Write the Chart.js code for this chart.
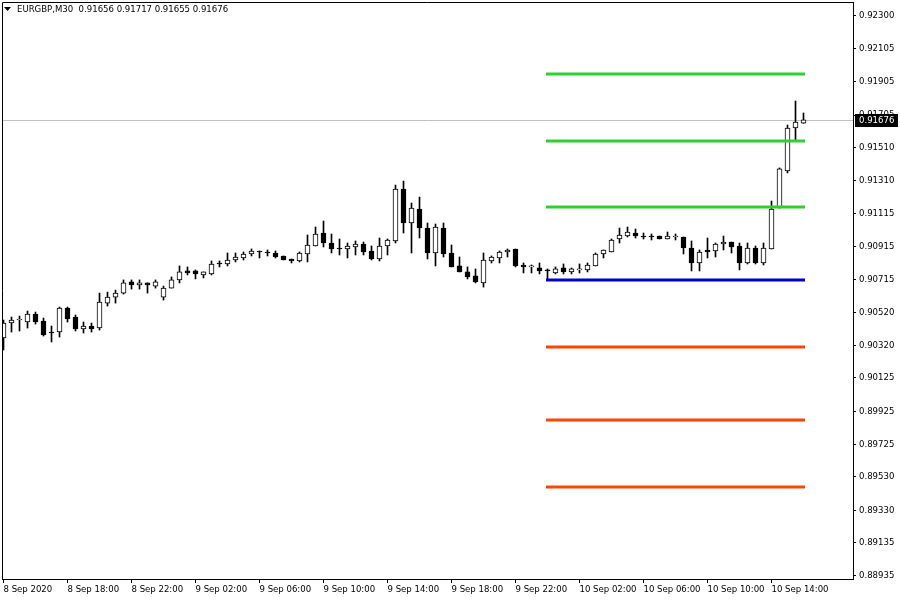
<!DOCTYPE html>
<html><head><meta charset="utf-8">
<script src="https://cdn.jsdelivr.net/npm/chart.js@4/dist/chart.umd.min.js"></script>
<style>html,body{margin:0;padding:0;background:#fff}#wrap{width:900px;height:600px}</style>
</head><body><div id="wrap"><canvas id="c" width="900" height="600"></canvas></div>
<script>
const symbolTitle = "EURGBP,M30";

const open = [0.90365,0.90455,0.90473,0.90461,0.90509,0.90467,0.90401,0.90401,0.90545,0.90491,
0.90419,0.90437,0.90425,0.90575,0.90611,0.90635,0.90702,0.90684,0.90696,0.90677,
0.90611,0.90665,0.90714,0.90768,0.90768,0.90744,0.90750,0.90816,0.90810,0.90834,
0.90846,0.90870,0.90888,0.90882,0.90876,0.90858,0.90840,0.90828,0.90870,0.90918,
0.90996,0.90936,0.90906,0.90900,0.90912,0.90930,0.90888,0.90840,0.90918,0.90948,
0.91260,0.91056,0.91140,0.91026,0.90876,0.91026,0.90876,0.90798,0.90762,0.90738,
0.90696,0.90828,0.90846,0.90882,0.90900,0.90804,0.90792,0.90786,0.90774,0.90756,
0.90786,0.90762,0.90774,0.90774,0.90798,0.90870,0.90882,0.90960,0.90978,0.90996,
0.90978,0.90978,0.90978,0.90960,0.90972,0.90972,0.90906,0.90816,0.90894,0.90888,
0.90930,0.90942,0.90918,0.90816,0.90906,0.90816,0.90900,0.91146,0.91369,0.91627,
0.91656];

const high = [0.90473,0.90491,0.90497,0.90527,0.90521,0.90485,0.90437,0.90551,0.90551,0.90503,
0.90461,0.90455,0.90635,0.90641,0.90653,0.90714,0.90714,0.90714,0.90696,0.90714,
0.90677,0.90732,0.90798,0.90792,0.90774,0.90762,0.90828,0.90828,0.90876,0.90876,
0.90882,0.90900,0.90888,0.90894,0.90888,0.90858,0.90840,0.90882,0.90984,0.91032,
0.91068,0.90990,0.90960,0.90936,0.90948,0.90942,0.90918,0.90966,0.90960,0.91284,
0.91308,0.91176,0.91212,0.91056,0.91050,0.91056,0.90924,0.90852,0.90792,0.90780,
0.90876,0.90858,0.90888,0.90900,0.90900,0.90816,0.90804,0.90816,0.90780,0.90792,
0.90810,0.90786,0.90810,0.90816,0.90876,0.90894,0.90960,0.91026,0.91032,0.91020,
0.90996,0.90990,0.90978,0.91002,0.90990,0.90972,0.90948,0.90894,0.90966,0.90936,
0.90978,0.90942,0.90936,0.90936,0.90918,0.90936,0.91188,0.91387,0.91645,0.91789,
0.91717];

const low = [0.90293,0.90401,0.90407,0.90425,0.90449,0.90377,0.90341,0.90371,0.90461,0.90407,
0.90395,0.90401,0.90413,0.90557,0.90575,0.90629,0.90659,0.90659,0.90635,0.90665,
0.90593,0.90665,0.90696,0.90744,0.90720,0.90726,0.90744,0.90792,0.90798,0.90822,
0.90834,0.90858,0.90846,0.90858,0.90846,0.90834,0.90816,0.90822,0.90822,0.90918,
0.90912,0.90876,0.90864,0.90846,0.90864,0.90864,0.90834,0.90828,0.90864,0.90936,
0.90996,0.90876,0.90966,0.90840,0.90798,0.90852,0.90792,0.90762,0.90720,0.90696,
0.90671,0.90816,0.90816,0.90852,0.90792,0.90756,0.90756,0.90750,0.90714,0.90750,
0.90750,0.90750,0.90756,0.90762,0.90798,0.90846,0.90882,0.90936,0.90972,0.90966,
0.90960,0.90954,0.90960,0.90960,0.90954,0.90870,0.90768,0.90768,0.90846,0.90852,
0.90894,0.90876,0.90774,0.90810,0.90810,0.90804,0.90900,0.91146,0.91357,0.91555,
0.91655];

const close = [0.90455,0.90473,0.90473,0.90509,0.90461,0.90383,0.90395,0.90545,0.90479,0.90419,
0.90437,0.90419,0.90581,0.90611,0.90635,0.90696,0.90684,0.90696,0.90684,0.90702,
0.90665,0.90714,0.90762,0.90756,0.90750,0.90762,0.90810,0.90810,0.90834,0.90852,
0.90870,0.90888,0.90882,0.90876,0.90852,0.90834,0.90828,0.90876,0.90924,0.90990,
0.90936,0.90900,0.90900,0.90918,0.90930,0.90882,0.90840,0.90918,0.90954,0.91260,
0.91056,0.91146,0.91026,0.90876,0.91032,0.90870,0.90792,0.90762,0.90732,0.90702,
0.90834,0.90852,0.90882,0.90894,0.90798,0.90792,0.90792,0.90768,0.90768,0.90780,
0.90762,0.90780,0.90774,0.90804,0.90870,0.90894,0.90954,0.90984,0.91002,0.90978,
0.90972,0.90972,0.90960,0.90978,0.90972,0.90906,0.90816,0.90882,0.90882,0.90930,
0.90942,0.90912,0.90816,0.90906,0.90816,0.90906,0.91140,0.91381,0.91627,0.91663,
0.91676];

// horizontal levels (drawn from candle index levelFrom to levelTo)
const levelFrom = 68, levelTo = 100;
const resistanceLevels = [0.91951, 0.91549, 0.91152];
const pivotLevels = [0.90714];
const supportLevels = [0.90311, 0.89872, 0.89470];

const priceTicks = [0.92300,0.92105,0.91905,0.91705,0.91510,0.91310,0.91115,0.90915,0.90715,
  0.90520,0.90320,0.90125,0.89925,0.89725,0.89530,0.89330,0.89135,0.88935];
const timeTickIndex = [0,8,16,24,32,40,48,56,64,72,80,88,96];
const timeTickLabels = ["8 Sep 2020","8 Sep 18:00","8 Sep 22:00","9 Sep 02:00","9 Sep 06:00",
  "9 Sep 10:00","9 Sep 14:00","9 Sep 18:00","9 Sep 22:00","10 Sep 02:00","10 Sep 06:00",
  "10 Sep 10:00","10 Sep 14:00"];

const FONT = "'DejaVu Sans Condensed', 'Liberation Sans', sans-serif";
const FS = 9.5;

const bodies = open.map((o, i) => ({x: i, y: [Math.min(o, close[i]), Math.max(o, close[i])]}));
const wicks = low.map((l, i) => ({x: i, y: [l, high[i]]}));

function levelDataset(v, color) {
  return {
    type: 'line', data: [{x: levelFrom, y: v}, {x: levelTo, y: v}],
    borderColor: color, borderWidth: 3, pointRadius: 0, borderCapStyle: 'square',
    order: 0, clip: false
  };
}

const overlay = {
  id: 'overlay',
  beforeDatasetsDraw(chart) {
    const {ctx, chartArea: a, scales: {y}} = chart;
    const py = Math.round(y.getPixelForValue(close[close.length - 1])) + 0.5;
    ctx.save();
    ctx.strokeStyle = '#c0c0c0'; ctx.lineWidth = 1;
    ctx.beginPath(); ctx.moveTo(a.left, py); ctx.lineTo(a.right, py); ctx.stroke();
    ctx.restore();
  },
  afterDraw(chart) {
    const {ctx, chartArea: a, scales: {y}} = chart;
    ctx.save();
    ctx.strokeStyle = '#000'; ctx.lineWidth = 1;
    ctx.beginPath();
    ctx.moveTo(a.left + 0.5, a.bottom); ctx.lineTo(a.left + 0.5, a.top + 0.5); ctx.lineTo(a.right, a.top + 0.5);
    ctx.stroke();
    const last = close[close.length - 1];
    const py = Math.round(y.getPixelForValue(last));
    ctx.fillStyle = '#000';
    ctx.fillRect(a.right + 2, py - 6, 43, 13);
    ctx.fillStyle = '#fff';
    ctx.font = FS + 'px ' + FONT;
    ctx.textBaseline = 'middle'; ctx.textAlign = 'left';
    ctx.fillText(last.toFixed(5), a.right + 6, py + 0.5);
    ctx.fillStyle = '#000';
    ctx.beginPath(); ctx.moveTo(4, 7); ctx.lineTo(11, 7); ctx.lineTo(7.5, 11); ctx.closePath(); ctx.fill();
    const n = open.length - 1;
    ctx.fillText(symbolTitle + '  ' + [open[n], high[n], low[n], close[n]].map(v => v.toFixed(5)).join(' '), 17, 10);
    ctx.restore();
  }
};

const datasets = [];
resistanceLevels.forEach(v => datasets.push(levelDataset(v, '#32cd32')));
pivotLevels.forEach(v => datasets.push(levelDataset(v, '#0000cd')));
supportLevels.forEach(v => datasets.push(levelDataset(v, '#ff4500')));
datasets.push({
  type: 'bar', data: bodies, grouped: false, barThickness: 5, minBarLength: 1,
  borderWidth: 1, borderSkipped: false, borderColor: '#000',
  backgroundColor: c => (close[c.dataIndex] < open[c.dataIndex] ? '#000' : '#fff'),
  order: 1
});
datasets.push({
  type: 'bar', data: wicks, grouped: false, barThickness: 1, borderWidth: 0,
  backgroundColor: '#000', order: 2
});

const xMin = -0.1875;
new Chart(document.getElementById('c'), {
  type: 'bar',
  data: {datasets},
  options: {
    responsive: false, devicePixelRatio: 1, animation: false,
    layout: {padding: {left: 2, top: 2, right: 0, bottom: 0}},
    plugins: {legend: {display: false}, tooltip: {enabled: false}},
    scales: {
      x: {
        type: 'linear', position: 'bottom', min: xMin, max: xMin + 851 / 8, offset: false,
        afterBuildTicks: s => { s.ticks = timeTickIndex.map(v => ({value: v})); },
        afterFit: s => { s.height = 21; s.paddingLeft = 0; s.paddingRight = 0; },
        grid: {offset: false, drawOnChartArea: false, drawTicks: true, tickLength: 4, color: '#000'},
        border: {color: '#000'},
        ticks: {
          autoSkip: false, maxRotation: 0, align: 'start', padding: 1, color: '#000',
          font: {family: FONT, size: FS},
          callback: v => { const k = timeTickIndex.indexOf(v); return k >= 0 ? timeTickLabels[k] : ''; }
        }
      },
      y: {
        type: 'linear', position: 'right', min: 0.889169, max: 0.923841,
        afterBuildTicks: s => { s.ticks = priceTicks.map(v => ({value: v})); },
        afterFit: s => { s.width = 47; s.paddingTop = 0; s.paddingBottom = 0; },
        grid: {drawOnChartArea: false, drawTicks: true, tickLength: 3, color: '#000'},
        border: {color: '#000'},
        ticks: {
          autoSkip: false, padding: 3, color: '#000', crossAlign: 'near',
          font: {family: FONT, size: FS},
          callback: v => v.toFixed(5)
        }
      }
    }
  },
  plugins: [overlay]
});
</script>
</body></html>
